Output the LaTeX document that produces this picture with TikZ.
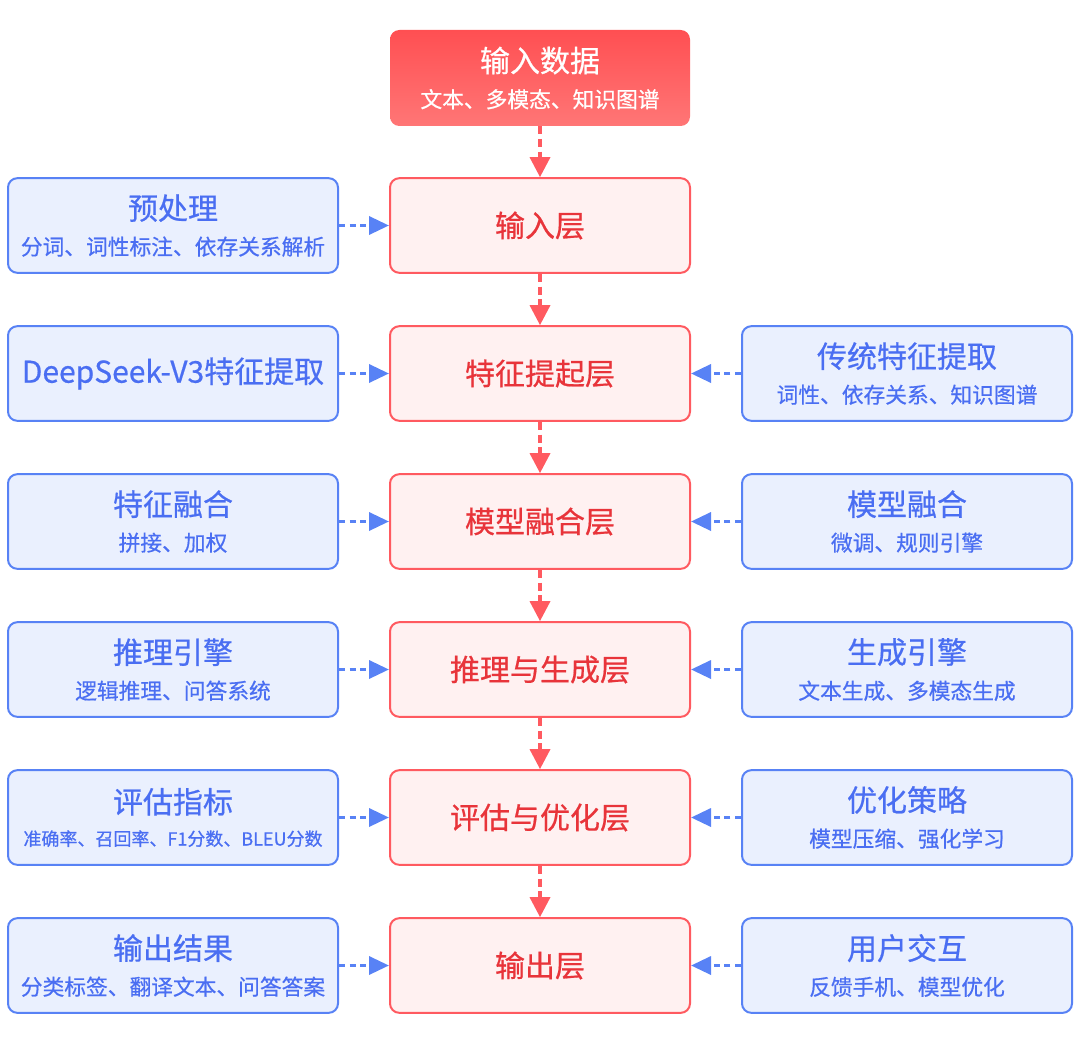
\documentclass[tikz,border=0pt]{standalone}
\usepackage{fontspec}
\setmainfont{Noto Sans CJK SC}[UprightFeatures={FakeBold=0.6}]
\usetikzlibrary{arrows.meta}

\definecolor{layerred}{HTML}{FF5A60}
\definecolor{layerfill}{HTML}{FFF1F1}
\definecolor{layertext}{HTML}{E8343A}
\definecolor{sideblue}{HTML}{5882F5}
\definecolor{sidefill}{HTML}{EAF0FE}
\definecolor{sidetext}{HTML}{4A6EF2}
\definecolor{srctop}{HTML}{FF4F52}
\definecolor{srcbottom}{HTML}{FF7676}

\newcommand{\bigtitle}[1]{{\fontsize{22.5}{26}\selectfont #1}}
\newcommand{\smalltext}[1]{{\fontsize{16.3}{19}\selectfont #1}}
\newcommand{\tinytext}[1]{{\fontsize{13.5}{17}\selectfont #1}}

\begin{document}
\begin{tikzpicture}[x=0.75pt,y=-0.75pt,
    layer/.style={draw=layerred,fill=layerfill,text=layertext,line width=1.5pt,
        rounded corners=7pt,minimum width=225pt,minimum height=71pt,align=center},
    side/.style={draw=sideblue,fill=sidefill,text=sidetext,line width=1.5pt,
        rounded corners=7pt,minimum width=247.5pt,minimum height=71pt,align=center},
    source/.style={top color=srctop,bottom color=srcbottom,text=white,
        rounded corners=7pt,minimum width=225pt,minimum height=72pt,align=center},
    redflow/.style={draw=layerred,line width=2.6pt,dash pattern=on 6pt off 3.5pt,
        -{Triangle[width=15pt,length=15pt]}},
    blueflow/.style={draw=sideblue,line width=2.6pt,dash pattern=on 4.5pt off 3.5pt,
        -{Triangle[width=13.5pt,length=15pt]}}]
    \useasboundingbox (0,0) rectangle (1080,1038);

    % centre column
    \node[source] (data) at (540,78) {\bigtitle{输入数据}\\[10pt]\smalltext{文本、多模态、知识图谱}};
    \node[layer] (inlayer) at (540,225.5) {\bigtitle{输入层}};
    \node[layer] (featlayer) at (540,373.5) {\bigtitle{特征提起层}};
    \node[layer] (fuselayer) at (540,521.5) {\bigtitle{模型融合层}};
    \node[layer] (genlayer) at (540,669.5) {\bigtitle{推理与生成层}};
    \node[layer] (evallayer) at (540,817.5) {\bigtitle{评估与优化层}};
    \node[layer] (outlayer) at (540,965.5) {\bigtitle{输出层}};

    % left column
    \node[side] (prep) at (173,225.5) {\bigtitle{预处理}\\[10pt]\smalltext{分词、词性标注、依存关系解析}};
    \node[side] (deepfeat) at (173,373.5) {\bigtitle{DeepSeek-V3特征提取}};
    \node[side] (featfuse) at (173,521.5) {\bigtitle{特征融合}\\[10pt]\smalltext{拼接、加权}};
    \node[side] (reason) at (173,669.5) {\bigtitle{推理引擎}\\[10pt]\smalltext{逻辑推理、问答系统}};
    \node[side] (metric) at (173,817.5) {\bigtitle{评估指标}\\[10pt]\tinytext{准确率、召回率、F1分数、BLEU分数}};
    \node[side] (result) at (173,965.5) {\bigtitle{输出结果}\\[10pt]\smalltext{分类标签、翻译文本、问答答案}};

    % right column
    \node[side] (tradfeat) at (907,373.5) {\bigtitle{传统特征提取}\\[10pt]\smalltext{词性、依存关系、知识图谱}};
    \node[side] (modfuse) at (907,521.5) {\bigtitle{模型融合}\\[10pt]\smalltext{微调、规则引擎}};
    \node[side] (generate) at (907,669.5) {\bigtitle{生成引擎}\\[10pt]\smalltext{文本生成、多模态生成}};
    \node[side] (optim) at (907,817.5) {\bigtitle{优化策略}\\[10pt]\smalltext{模型压缩、强化学习}};
    \node[side] (user) at (907,965.5) {\bigtitle{用户交互}\\[10pt]\smalltext{反馈手机、模型优化}};

    \draw[redflow] (data) -- (inlayer);
    \draw[redflow] (inlayer) -- (featlayer);
    \draw[redflow] (featlayer) -- (fuselayer);
    \draw[redflow] (fuselayer) -- (genlayer);
    \draw[redflow] (genlayer) -- (evallayer);
    \draw[redflow] (evallayer) -- (outlayer);

    \foreach \a/\b in {prep/inlayer,deepfeat/featlayer,featfuse/fuselayer,reason/genlayer,metric/evallayer,result/outlayer,
        tradfeat/featlayer,modfuse/fuselayer,generate/genlayer,optim/evallayer,user/outlayer}
        \draw[blueflow] (\a) -- (\b);
\end{tikzpicture}
\end{document}
